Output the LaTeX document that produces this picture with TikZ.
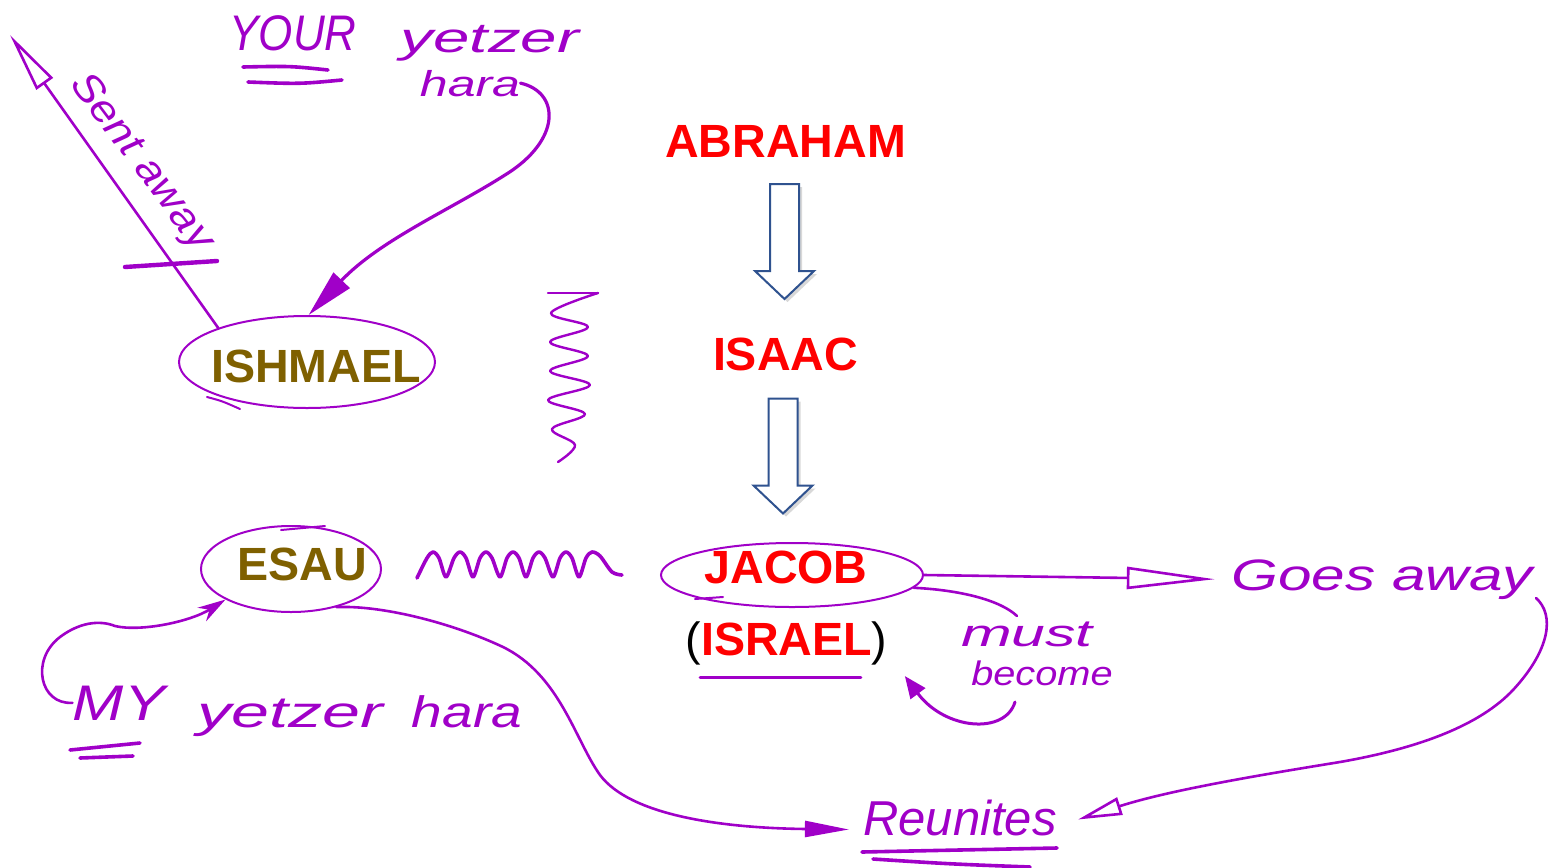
\documentclass[tikz,border=0pt]{standalone}
\usepackage{fontspec}
\setmainfont{Liberation Sans}
\usepackage{graphicx}
\usetikzlibrary{shapes.geometric,arrows.meta,shadows,calc}
\definecolor{pur}{RGB}{160,0,200}
\definecolor{brn}{RGB}{127,96,0}
\definecolor{blu}{RGB}{47,82,143}
\newcommand\hfs[1]{\fontsize{#1}{#1}\selectfont}
\newcommand\hx[2]{\scalebox{#1}[1]{#2}}
\begin{document}
\begin{tikzpicture}[x=0.5pt,y=-0.5pt,
  pname/.style={inner sep=0pt, text=red, font=\bfseries\fontsize{23.3}{28}\selectfont, anchor=base},
  sib/.style={pname, text=brn},
  hand/.style={inner sep=0pt, text=pur, font=\itshape, anchor=base},
  ring/.style={ellipse, draw=pur, line width=1pt, inner sep=0pt},
  pen/.style={draw=pur, line width=1.3pt, line cap=round, line join=round},
  thickpen/.style={pen, line width=1.8pt},
  downarrow/.pic={\draw[blu, line width=1pt, fill=white, drop shadow={opacity=0.3,shadow xshift=1.5pt,shadow yshift=-1.5pt}]
     (-14.5,-57.5) -- (14.5,-57.5) -- (14.5,29.5) -- (29.5,29.5) -- (0,57.5) -- (-29.5,29.5) -- (-14.5,29.5) -- cycle;}
]
\fill[white] (0,0) rectangle (1562,867);
\useasboundingbox (0,0) rectangle (1562,867);

% rings
\node[ring, minimum width=128pt, minimum height=46pt] (ishR) at (307,362) {};
\node[ring, minimum width=90pt, minimum height=43pt] (esauR) at (291,569) {};
\node[ring, minimum width=131pt, minimum height=32pt] (jacobR) at (792,575) {};
\draw[pen, line width=1pt] (207,397) .. controls (222,401) .. (240,409);
\draw[pen, line width=1pt] (695,599) -- (723,597);
\draw[pen, line width=1pt] (281,530) -- (325,526);

% names
\node[pname] (abraham) at (785.5,157) {ABRAHAM};
\node[pname] (isaac) at (785.5,370) {ISAAC};
\node[pname] (jacob) at (786,583) {JACOB};
\node[pname] (israel) at (786.5,655) {\textcolor{black}{\mdseries(}ISRAEL\textcolor{black}{\mdseries)}};
\node[sib] (ishmael) at (316,382) {ISHMAEL};
\node[sib] (esau) at (302.5,580) {ESAU};

% block arrows
\pic at (784.5,241.5) {downarrow};
\pic at (783,456) {downarrow};

% handwriting
\node[hand] (your) at (293,50) {\hfs{25}\hx{0.88}{YOUR}};
\node[hand] (yetzT) at (490,52) {\hfs{21}\hx{1.56}{yetzer}};
\node[hand] (haraT) at (470,96) {\hfs{18}\hx{1.39}{hara}};
\node[hand, anchor=center, rotate=-53] (sent) at (141,163) {\hfs{20}\hx{1.13}{Sent away}};
\node[hand] (my) at (119,720) {\hfs{25}\hx{1.23}{MY}};
\node[hand] (yetzB) at (290,727) {\hfs{22}\hx{1.55}{yetzer}};
\node[hand] (haraB) at (467,727) {\hfs{22}\hx{1.25}{hara}};
\node[hand] (goes) at (1382,590) {\hfs{22}\hx{1.37}{Goes away}};
\node[hand] (must) at (1027,646) {\hfs{19}\hx{1.6}{must}};
\node[hand] (become) at (1042,685) {\hfs{17}\hx{1.17}{become}};
\node[hand] (reun) at (960,835) {\hfs{24.5}Reunites};

% underlines
\draw[thickpen] (243,67) .. controls (290,66) .. (328,70);
\draw[thickpen] (248,82) .. controls (300,84) .. (342,80);
\draw[thickpen] (70,750) -- (140,743);
\draw[thickpen] (80,758) -- (133,756);
\draw[thickpen] (862,852) -- (1057,848);
\draw[thickpen] (873,859) .. controls (950,864) .. (1030,867);
\draw[pen, line width=1.5pt] ([shift={(15,12)}]israel.south west) -- ([shift={(-27,12)}]israel.south east);

% Sent away
\coordinate (sentTip) at (10,35);
\draw[pen, -{Triangle[open, length=30pt, width=10pt]}] (ishR.159) -- (sentTip);
\draw[thickpen, line width=2.2pt] (125,267) -- (217,261);

% YOUR yetzer hara -> Ishmael
\draw[pen, line width=1.6pt, -{Triangle[length=24pt, width=11pt]}] (haraT.east) .. controls (560,92) and (562,140) .. (505,175) .. controls (450,210) and (380,240) .. (ishR.88);

% wavy lines
\draw[pen, line width=1.2pt] (548,293) -- (598,293);
\draw[pen, line width=1.2pt] plot[smooth, tension=0.6] coordinates {(598,293) (551,313) (588,327) (550,342) (588,356) (550,371) (590,385) (548,400) (585,414) (552,429) (575,445) (558,462)};
\draw[pen, line width=1.8pt] plot[smooth, tension=0.5] coordinates {(417,578) (427,558) (433,552) (439,558) (446,577) (454,558) (460,552) (466,558) (473,577) (480,558) (486,552) (492,558) (500,577) (507,558) (513,552) (519,558) (526,577) (533,558) (539,552) (545,558) (553,577) (560,558) (566,552) (572,558) (579,577) (586,558) (592,552) (600,556) (612,572) (622,575)};

% MY yetzer hara -> Esau
\draw[pen, -{Stealth[length=14pt, width=8pt]}] (my.west) .. controls (40,705) and (30,660) .. (60,637) .. controls (80,622) and (100,620) .. (115,626) .. controls (140,632) and (190,622) .. (esauR.205);

% Esau -> Reunites
\draw[pen, -{Triangle[length=22pt, width=8pt]}] (esauR.-40) .. controls (380,605) and (450,622) .. (503,647) .. controls (560,675) and (575,740) .. (600,775) .. controls (630,815) and (720,828) .. ([shift={(-14,12)}]reun.west);

% Jacob -> Goes away
\draw[pen, -{Triangle[open, length=44pt, width=11pt]}] (jacobR.east) -- ([xshift=-8pt]goes.west);

% Jacob -> must
\coordinate (mustend) at (1017,616);
\draw[pen] (jacobR.-6) .. controls (960,590) and (1000,600) .. (mustend);

% become -> Israel
\coordinate (becstart) at (1015,702);
\draw[pen, line width=1.5pt, -{Triangle[length=11pt, width=9pt]}] (becstart) .. controls (1005,735) and (945,730) .. ([shift={(17,11)}]israel.south east);

% Goes away -> Reunites
\coordinate (goesend) at (1536,598);
\draw[pen, -{Triangle[open, length=22pt, width=9pt]}] (goesend) .. controls (1555,615) and (1550,650) .. (1513,690) .. controls (1480,725) and (1420,748) .. (1340,762) .. controls (1260,775) and (1170,790) .. ([shift={(21,2)}]reun.east);
\end{tikzpicture}
\end{document}
